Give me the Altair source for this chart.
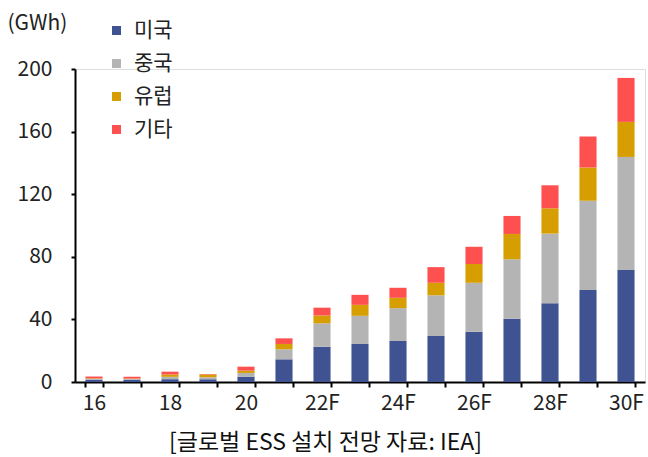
import json
import altair as alt
import pandas as pd

years = ['16', '17', '18', '19', '20', '21', '22F', '23F', '24F', '25F',
         '26F', '27F', '28F', '29F', '30F']
shown_labels = ['16', '18', '20', '22F', '24F', '26F', '28F', '30F']
series = ['미국', '중국', '유럽', '기타']
us = [1.5, 1.5, 1.8, 1.8, 3.4, 14.5, 22.5, 24.3, 26.2, 29.4, 32.1, 40.4, 50.3, 58.8, 71.6]
cn = [0.5, 0.4, 1.5, 1.2, 2.4, 6.4, 15.0, 18.0, 21.0, 26.0, 31.3, 38.0, 44.5, 57.0, 72.2]
eu = [0.3, 0.3, 1.5, 1.8, 1.5, 3.4, 5.0, 7.0, 6.6, 8.0, 12.0, 16.2, 16.2, 21.2, 22.4]
other = [1.2, 1.2, 1.8, 0.3, 2.5, 3.6, 5.0, 6.4, 6.4, 10.0, 11.0, 11.5, 14.7, 19.8, 28.1]
colors = ['#3f5393', '#b4b4b4', '#d69e00', '#ff5050']
y_ticks = [0, 40, 80, 120, 160, 200]

rows = []
for i, yr in enumerate(years):
    for k, (name, vals) in enumerate(zip(series, [us, cn, eu, other])):
        rows.append({'year': yr, 'region': name, 'value': vals[i], 'ord': k})
df = pd.DataFrame(rows)

font = 'Noto Sans CJK KR'
label_expr = "indexof(" + json.dumps(shown_labels) + ", datum.value) >= 0 ? datum.value : ''"

chart = alt.Chart(df).mark_bar().encode(
    x=alt.X('year:N', sort=years,
            scale=alt.Scale(paddingInner=0.55, paddingOuter=0.275),
            axis=alt.Axis(title='[글로벌 ESS 설치 전망 자료: IEA]', labelAngle=0,
                          labelExpr=label_expr, tickBand='extent', tickSize=5,
                          labelPadding=5, domainWidth=2, tickWidth=2,
                          domainColor='black', tickColor='black',
                          labelFontSize=21, labelFont=font, labelColor='#222222',
                          labelOverlap=False,
                          titleFontSize=23, titleFont=font, titleFontWeight='normal',
                          titleX=250, titleY=60, titleAlign='center',
                          titleBaseline='middle', titleColor='#111111', grid=False)),
    y=alt.Y('value:Q', stack='zero', scale=alt.Scale(domain=[0, 200]),
            axis=alt.Axis(values=y_ticks, title='(GWh)', titleAngle=0,
                          titleX=-68, titleY=-46, titleAlign='left',
                          titleBaseline='middle', titleFontSize=21, titleFont=font,
                          titleFontWeight='normal', titleColor='#222222',
                          tickSize=4, tickWidth=2, domainWidth=2,
                          domainColor='black', tickColor='black',
                          labelFontSize=21, labelFont=font, labelColor='#222222',
                          labelPadding=19, grid=False)),
    color=alt.Color('region:N', sort=series,
                    scale=alt.Scale(domain=series, range=colors),
                    legend=alt.Legend(title=None, orient='none', legendX=31, legendY=-49,
                                      symbolType='square', symbolSize=81,
                                      symbolStrokeWidth=0, labelFontSize=21,
                                      labelFont=font, labelColor='#222222',
                                      rowPadding=11, labelOffset=7, padding=0)),
    order=alt.Order('ord:Q', sort='ascending'),
).properties(
    width=570, height=313,
    autosize=alt.AutoSizeParams(type='none'),
    padding={'left': 75, 'top': 69, 'right': 3, 'bottom': 75},
).configure_view(stroke=None).configure(background='white')

chart.save("out.html", embed_options={"renderer": "svg", "actions": False})
